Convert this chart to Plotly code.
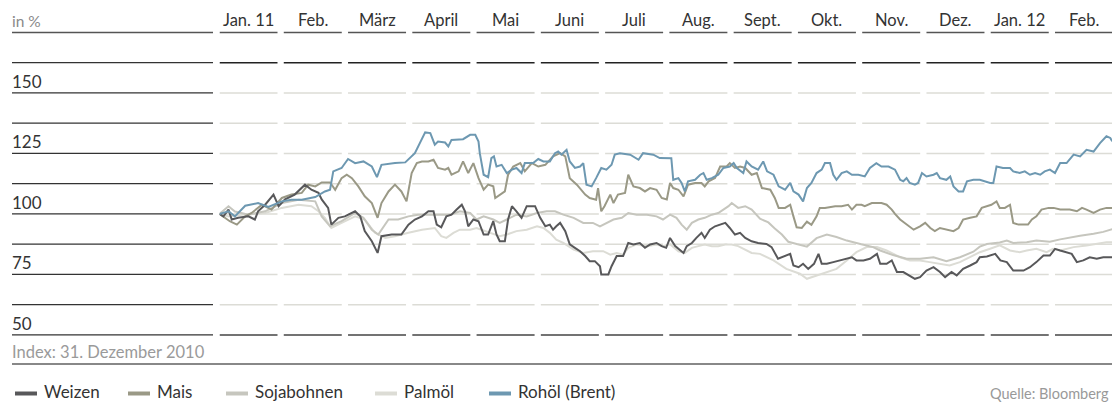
import plotly.graph_objects as go

# Month columns (x axis: months since 31.12.2010, each month one equal-width column)
monate = ["Jan. 11", "Feb.", "März", "April", "Mai", "Juni", "Juli", "Aug.",
          "Sept.", "Okt.", "Nov.", "Dez.", "Jan. 12", "Feb."]
y_ticks = [150, 125, 100, 75, 50]
grid_vals = [162.5, 150, 137.5, 125, 112.5, 100, 87.5, 75, 62.5]

t_weizen = [0, 0.06, 0.14, 0.19, 0.29, 0.45, 0.55, 0.60, 0.71, 0.84, 0.92, 1.02, 1.17, 1.33, 1.43, 1.54, 1.59, 1.69, 1.74, 1.85,
            1.95, 2.11, 2.19, 2.26, 2.37, 2.46, 2.52, 2.68, 2.83, 2.94, 3.04, 3.15, 3.25, 3.33, 3.38, 3.45,
            3.53, 3.61, 3.69, 3.77, 3.82, 3.87, 3.95, 4.03, 4.11, 4.18, 4.26, 4.31, 4.36, 4.44, 4.49, 4.55, 4.62, 4.70, 4.78, 4.91,
            4.99, 5.07, 5.14, 5.19, 5.24, 5.30, 5.38, 5.45, 5.53, 5.61, 5.69, 5.76, 5.84, 5.92, 5.94, 6.05, 6.10, 6.18, 6.28, 6.36,
            6.44, 6.54, 6.62, 6.70, 6.80, 6.88, 6.95, 7.01,
            7.09, 7.16, 7.22, 7.27, 7.35, 7.42, 7.50, 7.55, 7.63, 7.71, 7.79, 7.87, 7.94, 8.02, 8.10, 8.18, 8.28, 8.38,
            8.51, 8.59, 8.69, 8.80, 8.88, 8.93, 9.01, 9.08, 9.16, 9.25, 9.32, 9.37, 9.45, 9.55, 9.65, 9.76, 9.84, 9.91, 10.02, 10.12,
            10.23, 10.28, 10.38, 10.46, 10.54, 10.64, 10.72, 10.82, 10.90, 11.00, 11.11, 11.21, 11.29, 11.39, 11.47, 11.57, 11.68,
            11.78, 11.83, 11.94, 12.07, 12.15, 12.25, 12.35, 12.51, 12.61, 12.71, 12.82, 12.92, 13.00, 13.08, 13.18, 13.26, 13.34,
            13.44, 13.54, 13.65, 13.75, 13.89]
weizen = [100, 99.0, 101.8, 97.7, 98.4, 99.0, 97.7, 101.1, 103.8, 108.0, 103.2, 106.0, 108.0, 112.1, 110.0, 108.7, 106.0, 102.5, 95.6, 98.4,
          99.0, 101.1, 99.0, 92.9, 88.7, 83.9, 90.8, 91.5, 91.5, 95.6, 97.7, 99.0, 101.1, 101.1, 95.6, 94.5,
          99.0, 99.7, 101.8, 103.8, 101.1, 94.9, 97.7, 97.0, 91.5, 91.5, 97.0, 91.5, 88.7, 88.7, 97.7, 103.2, 101.1, 98.4, 103.2, 103.2,
          98.4, 94.9, 95.6, 93.5, 94.9, 96.3, 92.9, 87.4, 86.0, 84.6, 82.6, 80.5, 80.5, 78.4, 75.0, 75.0, 78.4, 82.6, 82.6, 88.0,
          87.4, 88.0, 86.0, 87.4, 88.0, 86.7, 86.0, 90.1,
          86.7, 85.3, 83.9, 86.7, 88.0, 90.1, 92.2, 90.1, 93.5, 94.9, 95.6, 96.3, 94.2, 91.5, 92.2, 90.1, 88.7, 88.0,
          87.6, 86.3, 81.5, 82.8, 83.5, 78.7, 78.0, 79.4, 77.3, 79.4, 83.5, 79.4, 79.4, 80.1, 80.8, 81.5, 82.1, 80.8, 80.8, 81.5,
          83.5, 79.4, 79.4, 80.8, 76.0, 76.0, 74.6, 73.2, 73.9, 76.6, 78.0, 76.0, 73.9, 76.0, 74.6, 77.3, 78.7,
          80.1, 82.1, 82.4, 83.5, 80.8, 80.1, 76.6, 76.6, 78.0, 80.1, 82.8, 82.8, 85.6, 84.9, 84.2, 83.5, 80.1,
          80.8, 82.1, 81.5, 82.1, 82.1]

t_mais = [0, 0.16, 0.27, 0.40, 0.50, 0.66, 0.81, 0.97, 1.12, 1.28, 1.38, 1.49, 1.59, 1.72, 1.80, 1.90, 1.98, 2.06, 2.16, 2.26,
          2.37, 2.46, 2.52, 2.63, 2.73, 2.83, 2.91, 2.99, 3.07, 3.15, 3.25, 3.33, 3.40, 3.51,
          3.56, 3.61, 3.72, 3.79, 3.87, 3.95, 4.03, 4.11, 4.18, 4.26, 4.29, 4.36, 4.44, 4.49, 4.57, 4.68, 4.75, 4.86, 4.96, 5.07,
          5.19, 5.30, 5.38, 5.45, 5.56, 5.69, 5.76, 5.86, 5.89, 5.94, 5.99, 6.08, 6.13, 6.20, 6.31, 6.36, 6.44, 6.54, 6.62, 6.70,
          6.80, 6.88, 6.96, 7.01,
          7.06, 7.14, 7.22, 7.29, 7.40, 7.50, 7.55, 7.61, 7.71, 7.79, 7.89, 7.94, 8.02, 8.10, 8.18, 8.28, 8.36, 8.44, 8.57, 8.64,
          8.70, 8.80, 8.88, 8.93, 8.98, 9.06, 9.14, 9.21, 9.29, 9.34, 9.42, 9.58, 9.68, 9.78, 9.84, 9.91, 9.99, 10.04, 10.15, 10.30,
          10.38, 10.46, 10.51,
          10.59, 10.69, 10.80, 10.90, 10.98, 11.06, 11.13, 11.21, 11.31, 11.42, 11.50, 11.57, 11.68, 11.78, 11.86, 11.94, 12.01,
          12.09, 12.14, 12.22, 12.30, 12.35, 12.43, 12.58, 12.64, 12.71, 12.79, 12.90, 12.98, 13.08, 13.23, 13.34, 13.42, 13.49,
          13.60, 13.70, 13.80, 13.89]
mais = [100, 97.0, 95.6, 99.0, 100.4, 103.8, 101.8, 106.6, 108.0, 108.7, 112.1, 111.4, 113.0, 113.0, 110.0, 114.8, 116.2, 114.8, 111.4, 107.3,
        104.5, 98.4, 104.5, 109.3, 112.1, 109.3, 105.2, 116.9, 121.0, 121.7, 121.7, 122.4, 119.0, 118.3,
        119.0, 116.2, 117.6, 121.7, 116.9, 121.0, 114.8, 110.0, 112.1, 111.4, 106.6, 108.0, 109.3, 116.2, 119.6, 121.0, 117.6, 121.0, 119.6, 120.3,
        123.8, 125.1, 123.8, 114.8, 112.1, 108.0, 106.6, 105.9, 110.7, 101.1, 103.2, 108.0, 104.5, 108.0, 108.7, 116.2, 111.4, 110.7, 109.3, 110.7,
        110.0, 106.6, 106.0, 112.8,
        110.7, 110.0, 107.3, 112.1, 112.8, 112.8, 111.4, 113.5, 114.8, 119.6, 119.6, 121.0, 119.0, 119.6, 119.0, 116.2, 116.9, 110.7, 110.0, 106.6,
        102.5, 102.5, 103.8, 99.0, 94.5, 94.2, 96.8, 95.5, 99.0, 102.5, 102.5, 103.2, 103.2, 103.8, 101.8, 103.8, 103.8, 103.2, 104.5, 104.5,
        103.8, 101.8, 100.0,
        97.7, 95.6, 93.5, 94.9, 96.3, 94.2, 92.9, 94.2, 93.5, 92.9, 94.2, 97.7, 98.4, 99.0, 102.5, 103.2, 103.8,
        105.2, 102.5, 102.5, 103.8, 96.3, 95.6, 95.6, 97.7, 99.0, 101.8, 102.5, 102.5, 101.8, 101.8, 101.1, 102.5, 101.8,
        100.4, 101.8, 102.5, 102.5]

t_soja = [0, 0.14, 0.24, 0.45, 0.71, 0.97, 1.23, 1.49, 1.59, 1.72, 1.90, 2.11, 2.24, 2.37, 2.47, 2.63, 2.78, 2.94, 3.09, 3.25,
          3.45, 3.59, 3.74, 3.90, 4.00, 4.11, 4.26, 4.36, 4.47, 4.62, 4.78, 4.94, 5.09, 5.22, 5.35, 5.51, 5.66, 5.81, 5.92, 6.02,
          6.13, 6.26, 6.36, 6.49, 6.65, 6.80, 6.90, 7.01, 7.11, 7.19, 7.27, 7.35, 7.45, 7.55, 7.66, 7.76, 7.84, 7.92, 7.97, 8.07,
          8.18, 8.28, 8.41, 8.54, 8.64, 8.75, 8.85, 8.98, 9.14, 9.29, 9.45, 9.60, 9.76, 9.97, 10.17, 10.28, 10.48, 10.69, 10.90, 11.11,
          11.31, 11.52, 11.73, 11.83, 11.94, 12.14, 12.25, 12.35, 12.56, 12.71, 12.92, 13.08, 13.23, 13.39, 13.60, 13.75, 13.89]
soja = [100, 103.2, 101.0, 99.7, 101.1, 104.5, 105.9, 105.2, 99.0, 94.9, 97.0, 100.4, 98.4, 93.5, 91.5, 97.7, 97.7, 99.0, 99.7, 99.7,
        99.7, 99.7, 101.1, 100.4, 97.7, 99.0, 97.7, 96.3, 97.7, 99.7, 99.0, 100.4, 101.1, 101.1, 99.7, 98.4, 96.3, 96.3, 94.9, 96.3,
        97.7, 98.4, 100.4, 99.7, 99.7, 99.0, 97.7, 99.7, 98.4, 95.6, 93.5, 96.3, 97.7, 98.4, 99.7, 100.4, 101.8, 103.2, 104.5, 102.5,
        103.2, 101.8, 98.0, 96.5, 94.0, 91.5, 88.5, 87.6, 86.5, 90.0, 91.5, 90.5, 89.0, 87.6, 86.3, 84.9, 83.0, 81.5, 81.5, 82.1,
        80.5, 82.1, 84.4, 86.5, 87.6, 88.2, 89.0, 88.0, 88.3, 89.0, 88.5, 89.5, 90.3, 91.0, 91.8, 92.6, 93.7]

t_palm = [0, 0.14, 0.34, 0.71, 0.97, 1.23, 1.43, 1.54, 1.64, 1.74, 1.90, 2.11, 2.26, 2.42, 2.58, 2.73, 2.94, 3.15, 3.35, 3.45,
          3.53, 3.64, 3.74, 3.90, 4.00, 4.13, 4.26, 4.36, 4.47, 4.62, 4.78, 4.94, 5.04, 5.14, 5.24, 5.35, 5.51, 5.66, 5.81, 5.97,
          6.08, 6.18, 6.28, 6.36, 6.49, 6.65, 6.80, 6.90, 7.01, 7.14, 7.24, 7.35, 7.45, 7.55, 7.66, 7.76, 7.87, 7.97, 8.07, 8.18,
          8.28, 8.41, 8.62, 8.82, 9.03, 9.14, 9.29, 9.45, 9.60, 9.76, 9.91, 10.07, 10.23, 10.38, 10.48, 10.59, 10.74, 10.90, 11.05, 11.21,
          11.36, 11.52, 11.68, 11.83, 11.99, 12.14, 12.30, 12.45, 12.56, 12.71, 12.87, 12.97, 13.08, 13.29, 13.49, 13.65, 13.80, 13.89]
palm = [100, 99.0, 99.7, 100.4, 102.5, 103.8, 103.2, 101.1, 98.4, 94.2, 96.3, 99.0, 97.7, 92.2, 90.1, 90.8, 92.2, 93.5, 94.2, 90.8,
        90.1, 92.2, 93.5, 93.5, 94.2, 92.9, 91.5, 90.8, 91.5, 92.9, 93.5, 94.9, 94.2, 92.2, 89.4, 88.0, 85.3, 83.9, 84.6, 84.6,
        83.2, 83.9, 83.2, 86.0, 87.4, 86.7, 87.4, 86.7, 87.5, 84.6, 83.9, 86.0, 86.7, 87.4, 86.7, 86.7, 87.4, 87.4, 86.7, 85.3,
        83.9, 83.5, 80.8, 77.3, 75.3, 73.2, 74.6, 76.0, 77.3, 80.8, 84.2, 86.3, 86.3, 84.9, 83.5, 82.1, 80.8, 80.8, 80.1, 79.4,
        78.7, 80.1, 82.1, 84.2, 85.6, 87.0, 84.9, 84.2, 84.9, 85.6, 84.2, 85.6, 84.9, 86.3, 87.0, 87.6, 88.3, 88.3]

t_oel = [0, 0.14, 0.24, 0.40, 0.60, 0.76, 0.97, 1.12, 1.28, 1.49, 1.64, 1.72, 1.77, 1.90, 2.00, 2.11, 2.24, 2.37, 2.45, 2.52,
         2.73, 2.89, 3.04, 3.12, 3.20, 3.28, 3.35, 3.40, 3.51,
         3.56, 3.61, 3.79, 3.90, 3.98, 4.03, 4.05, 4.11, 4.18, 4.23, 4.27, 4.31, 4.39, 4.47, 4.55, 4.62, 4.70, 4.75, 4.88, 4.96,
         5.04, 5.14, 5.22, 5.27, 5.32, 5.40, 5.45, 5.53, 5.61, 5.66, 5.71, 5.79, 5.86, 5.94, 6.02, 6.10, 6.15, 6.23, 6.39, 6.52,
         6.59, 6.75, 6.85, 6.98,
         7.03, 7.06, 7.14, 7.19, 7.24, 7.29, 7.40, 7.48, 7.53, 7.58, 7.66, 7.76, 7.84, 7.94, 8.00, 8.05, 8.15, 8.20, 8.28, 8.38,
         8.46, 8.52, 8.62, 8.70, 8.80, 8.88, 8.93, 9.01, 9.08, 9.14, 9.21, 9.29, 9.37, 9.42, 9.50, 9.55, 9.60, 9.68, 9.76, 9.84,
         9.94, 10.04, 10.12, 10.22, 10.30, 10.41, 10.51,
         10.59, 10.64, 10.69, 10.74, 10.82, 10.87, 10.93, 11.00, 11.11, 11.16, 11.21, 11.31, 11.37, 11.42, 11.50, 11.57, 11.63,
         11.73, 11.83, 11.91, 11.99, 12.04, 12.09, 12.19, 12.30, 12.35, 12.45, 12.53, 12.61, 12.69, 12.77, 12.84, 12.92, 13.00,
         13.08, 13.18, 13.29, 13.39, 13.49, 13.60, 13.70, 13.80, 13.86, 13.89]
oel = [100, 101.1, 99.0, 103.4, 104.5, 102.9, 105.2, 105.9, 105.9, 107.0, 109.3, 110.0, 117.6, 119.0, 122.7, 121.0, 121.7, 119.6, 115.2, 120.3,
       121.0, 121.3, 125.1, 129.3, 133.7, 133.4, 128.6, 129.9, 129.5,
       127.9, 130.6, 130.9, 132.7, 132.7, 129.9, 125.1, 116.2, 115.2, 123.1, 123.8, 119.6, 120.3, 116.9, 118.3, 119.0, 116.9, 121.0, 121.0, 122.7,
       121.7, 121.7, 125.1, 125.8, 124.5, 126.5, 121.7, 119.0, 119.6, 121.0, 112.1, 111.4, 114.8, 119.0, 118.3, 120.3, 124.5, 125.1, 124.5, 122.4,
       125.1, 124.5, 123.1, 123.1,
       123.0, 114.1, 114.8, 112.8, 109.3, 113.5, 114.1, 116.2, 116.9, 114.1, 114.8, 116.2, 119.0, 119.6, 121.0, 119.0, 116.9, 121.7, 119.6, 118.3,
       121.7, 117.6, 116.2, 111.4, 110.0, 112.8, 109.3, 108.0, 105.2, 110.7, 112.8, 116.9, 118.3, 121.0, 121.0, 116.2, 114.1, 116.9, 117.6, 116.2,
       116.2, 115.5, 119.0, 121.0, 119.6, 119.6, 118.3,
       114.1, 113.5, 114.8, 112.8, 112.1, 112.8, 116.9, 115.5, 116.2, 116.9, 114.8, 114.1, 115.5, 111.4, 109.3, 109.3, 113.5,
       114.1, 114.1, 113.5, 112.8, 112.8, 119.6, 119.0, 119.0, 117.6, 116.9, 117.6, 116.2, 116.9, 116.2, 117.6, 118.3, 116.9,
       121.0, 121.0, 124.5, 123.8, 126.5, 125.8, 129.3, 132.1, 131.4, 130.0]

serien = [
    ("Palmöl", t_palm, palm, "#dcdcd5"),
    ("Sojabohnen", t_soja, soja, "#c6c6be"),
    ("Mais", t_mais, mais, "#9a9986"),
    ("Weizen", t_weizen, weizen, "#58585a"),
    ("Rohöl (Brent)", t_oel, oel, "#6d98b1"),
]
legend_order = ["Weizen", "Mais", "Sojabohnen", "Palmöl", "Rohöl (Brent)"]

W, H = 1112, 402
FONT = "Lato"
PX_PER_MONTH = 64.27
COL_W = 58 / PX_PER_MONTH
LEFT = 219.5
Y_RANGE = [22.3, 188.4]

fig = go.Figure()
for name, t, v, col in serien:
    fig.add_trace(go.Scatter(x=t, y=v, mode="lines", name=name,
                             line=dict(color=col, width=2), hoverinfo="skip"))

shapes = []
annotations = []
lx0, lx1 = 12 / W, 213 / W

# header underline
shapes.append(dict(type="line", xref="paper", yref="y", x0=lx0, x1=lx1, y0=175, y1=175,
                   line=dict(color="#555", width=1.5)))
for i in range(len(monate)):
    shapes.append(dict(type="line", xref="x", yref="y", x0=i, x1=i + COL_W, y0=175, y1=175,
                       line=dict(color="#555", width=1.5)))
    shapes.append(dict(type="line", xref="x", yref="y", x0=i, x1=i + COL_W, y0=50, y1=50,
                       line=dict(color="#444", width=1.5)))
    for g in grid_vals:
        c = "#222" if g == 162.5 else "#dcdcd6"
        shapes.append(dict(type="line", xref="x", yref="y", x0=i, x1=i + COL_W, y0=g, y1=g,
                           line=dict(color=c, width=1.5), layer="below"))
    annotations.append(dict(xref="x", yref="y", x=i + COL_W / 2, y=175, yanchor="bottom", xanchor="center",
                            text=monate[i], showarrow=False, yshift=0,
                            font=dict(family=FONT, size=16.5, color="#333")))
for g in grid_vals + [50]:
    shapes.append(dict(type="line", xref="paper", yref="y", x0=lx0, x1=lx1, y0=g, y1=g,
                       line=dict(color="#333", width=1.3)))
for tv in y_ticks:
    annotations.append(dict(xref="paper", yref="y", x=lx0, y=tv, xanchor="left", yanchor="bottom",
                            text=str(tv), showarrow=False, yshift=-1, xshift=-2,
                            font=dict(family=FONT, size=17, color="#333")))
annotations.append(dict(xref="paper", yref="y", x=lx0, y=175, xanchor="left", yanchor="bottom",
                        text="in %", showarrow=False, yshift=0, xshift=-2,
                        font=dict(family=FONT, size=15.5, color="#8a8a8a")))
annotations.append(dict(xref="paper", yref="paper", x=lx0, y=1 - 352 / H, xanchor="left", yanchor="middle",
                        text="Index: 31. Dezember 2010", showarrow=False, xshift=-2,
                        font=dict(family=FONT, size=16.5, color="#9a9a9a")))
# bottom rule
shapes.append(dict(type="line", xref="paper", yref="paper", x0=lx0, x1=1, y0=1 - 364 / H, y1=1 - 364 / H,
                   line=dict(color="#888", width=2)))

# legend
colors = {n: c for n, _, _, c in serien}
leg_x = [15, 128, 226, 375, 489]
ly = 1 - 393 / H
for n, x in zip(legend_order, leg_x):
    shapes.append(dict(type="rect", xref="paper", yref="paper", x0=x / W, x1=(x + 22) / W,
                       y0=ly - 2.5 / H, y1=ly + 1.5 / H, fillcolor=colors[n], line=dict(width=0)))
    annotations.append(dict(xref="paper", yref="paper", x=(x + 28) / W, y=1 - 391 / H, xanchor="left",
                            yanchor="middle", text=n, showarrow=False, xshift=-1,
                            font=dict(family=FONT, size=17, color="#333")))
annotations.append(dict(xref="paper", yref="paper", x=1, y=1 - 393 / H, xanchor="right", yanchor="middle",
                        text="Quelle: Bloomberg", showarrow=False, xshift=-1,
                        font=dict(family=FONT, size=14.5, color="#999")))

fig.update_layout(
    width=W, height=H, autosize=False,
    margin=dict(l=0, r=0, t=0, b=0, pad=0),
    paper_bgcolor="white", plot_bgcolor="white",
    showlegend=False,
    xaxis=dict(domain=[LEFT / W, 1], range=[0, (W - LEFT) / PX_PER_MONTH], visible=False, fixedrange=True),
    yaxis=dict(domain=[0, 1], range=Y_RANGE, visible=False, fixedrange=True),
    shapes=shapes, annotations=annotations,
)

fig.write_html("out.html", config={"displayModeBar": False},
               post_script="document.body.style.margin='0';document.body.style.overflow='hidden';")
